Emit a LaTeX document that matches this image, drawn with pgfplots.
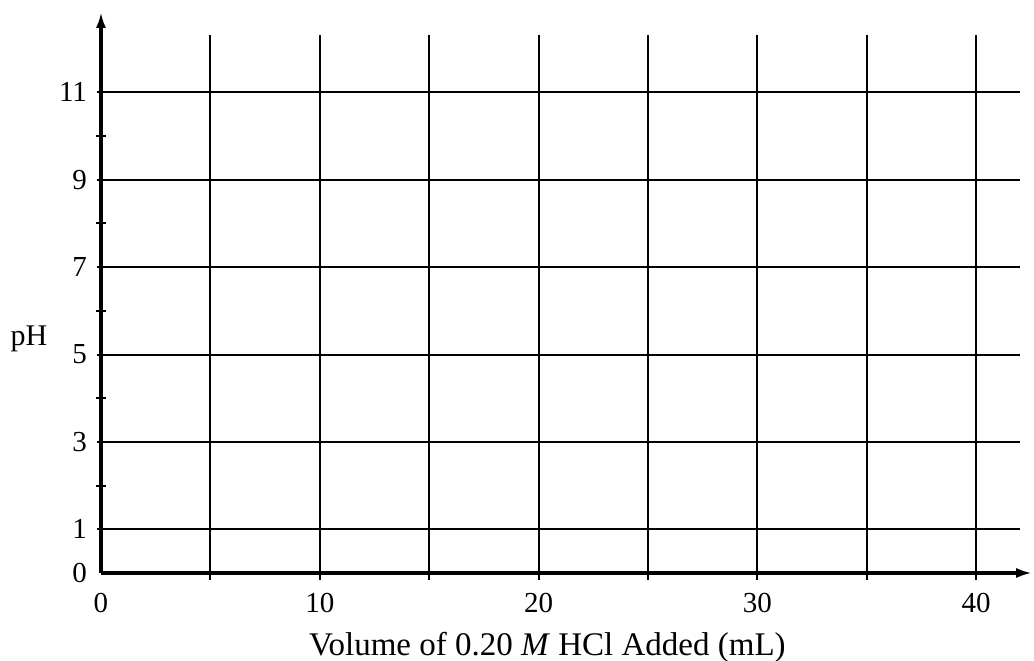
\documentclass[border=0pt]{standalone}
\usepackage{fontspec}
\setmainfont{Liberation Serif}
\usepackage{pgfplots}
\pgfplotsset{compat=1.18}
\usetikzlibrary{arrows.meta}
\begin{document}
\begin{tikzpicture}
\begin{axis}[
  anchor=origin, at={(0,0)},
  x=10.94pt, y=21.85pt,
  xmin=0, xmax=42.56, ymin=0, ymax=12.84,
  clip=false,
  axis lines=left,
  axis line style={line width=1.6pt, -{Latex[length=8pt,width=5pt]}},
  xtick={0,10,20,30,40},
  ytick={0,1,3,5,7,9,11},
  minor ytick={2,4,6,8,10},
  major tick length=0pt,
  minor tick length=5pt,
  tick align=center,
  tick style={line width=1pt, black},
  /pgf/number format/assume math mode=true,
  ticklabel style={font=\fontsize{14.5}{14.5}\selectfont},
  xticklabel style={yshift=-6.5pt},
  yticklabel style={xshift=-3.5pt},
  xlabel={Volume of 0.20 \textit{M} HCl Added (mL)},
  every axis x label/.style={at={(axis cs:20.4,0)}, anchor=base, yshift=-41pt, font=\fontsize{16.5}{16.5}\selectfont},
]
% vertical grid lines
\pgfplotsinvokeforeach{5,10,...,40}{
  \draw[line width=1pt] (axis cs:#1,-0.15) -- (axis cs:#1,12.31);
}
% horizontal grid lines
\pgfplotsinvokeforeach{1,3,...,11}{
  \draw[line width=1pt] (axis cs:-0.2,#1) -- (axis cs:42.0,#1);
}
\node[font=\fontsize{15}{15}\selectfont] at (axis cs:0,5.35) [xshift=-36pt] {pH};
\end{axis}
\pgfresetboundingbox
\path (-50.5pt,-43.5pt) rectangle (466.5pt,286.5pt);
\end{tikzpicture}
\end{document}
